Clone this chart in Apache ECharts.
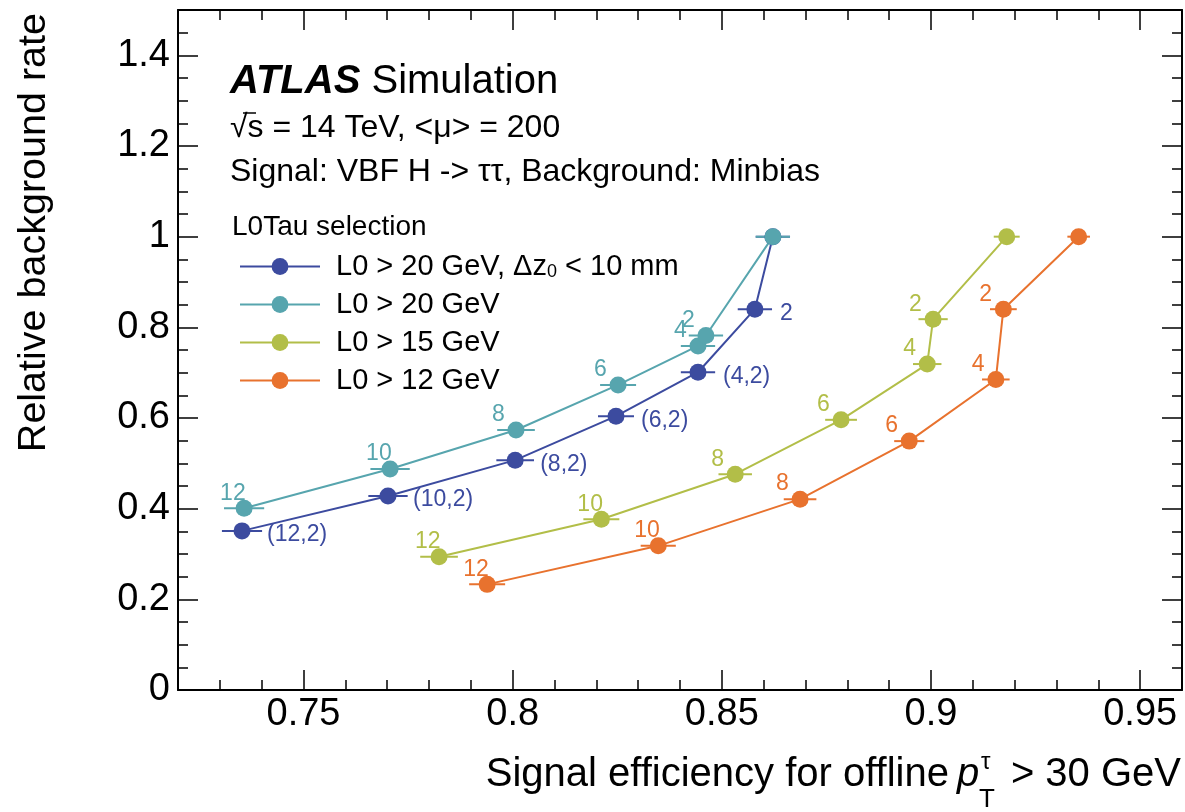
<!DOCTYPE html>
<html>
<head>
<meta charset="utf-8">
<script src="https://cdn.jsdelivr.net/npm/echarts@6/dist/echarts.min.js"></script>
<style>
html, body {margin: 0; padding: 0; background: #fff;}
#figure0 {width: 1185px; height: 812px;}
</style>
</head>
<body>
<div id="figure0"></div>
<script>
// values
var seriesNames = ['L0 > 20 GeV, Δz0 < 10 mm', 'L0 > 20 GeV', 'L0 > 15 GeV', 'L0 > 12 GeV'];
var seriesColors = ['#3c4b9f', '#57a5ae', '#b2be48', '#e8722e'];

var blueEff = [0.7353, 0.7702, 0.8006, 0.8247, 0.8443, 0.8579, 0.8622];
var blueRate = [0.351, 0.428, 0.507, 0.604, 0.701, 0.840, 1.0];
var blueErr = [0.0048, 0.0047, 0.0045, 0.0043, 0.0041, 0.0041, 0.0041];
var blueLabels = ['(12,2)', '(10,2)', '(8,2)', '(6,2)', '(4,2)', '2', ''];

var cyanEff = [0.7358, 0.7707, 0.8008, 0.8252, 0.8443, 0.8462, 0.8622];
var cyanRate = [0.401, 0.4875, 0.5736, 0.673, 0.759, 0.782, 1.0];
var cyanErr = [0.0048, 0.0047, 0.0045, 0.0043, 0.0041, 0.0041, 0.0041];
var cyanLabels = ['12', '10', '8', '6', '4', '2', ''];

var greenEff = [0.7824, 0.8212, 0.8532, 0.8785, 0.8991, 0.9005, 0.9181];
var greenRate = [0.294, 0.3766, 0.476, 0.596, 0.719, 0.818, 1.0];
var greenErr = [0.0045, 0.0043, 0.0040, 0.0038, 0.0034, 0.0035, 0.0031];
var greenLabels = ['12', '10', '8', '6', '4', '2', ''];

var orangeEff = [0.7939, 0.8348, 0.8687, 0.8948, 0.9155, 0.9173, 0.9353];
var orangeRate = [0.233, 0.318, 0.421, 0.549, 0.685, 0.840, 1.0];
var orangeErr = [0.0043, 0.0042, 0.0039, 0.0036, 0.0033, 0.0032, 0.0027];
var orangeLabels = ['12', '10', '8', '6', '4', '2', ''];

var font = "'Liberation Sans', Arial, Helvetica, sans-serif";
var figure0 = echarts.init(document.getElementById('figure0'));

var groups = [
    {eff: blueEff, rate: blueRate, err: blueErr, labels: blueLabels, offset: [25, 4]},
    {eff: cyanEff, rate: cyanRate, err: cyanErr, labels: cyanLabels, offset: [-24, -15]},
    {eff: greenEff, rate: greenRate, err: greenErr, labels: greenLabels, offset: [-24, -15]},
    {eff: orangeEff, rate: orangeRate, err: orangeErr, labels: orangeLabels, offset: [-24, -15]}
];

var series = [];
groups.forEach(function (g, k) {
    var color = seriesColors[k];
    var errData = g.eff.map(function (x, i) { return [x - g.err[i], x + g.err[i], g.rate[i]]; });
    series.push({
        name: 'err' + k,
        type: 'custom',
        xAxisIndex: 0, yAxisIndex: 0,
        data: errData,
        encode: {x: [0, 1], y: 2},
        z: 2,
        renderItem: function (params, api) {
            var a = api.coord([api.value(0), api.value(2)]);
            var b = api.coord([api.value(1), api.value(2)]);
            return {type: 'line', shape: {x1: a[0], y1: a[1], x2: b[0], y2: b[1]}, style: {stroke: color, lineWidth: 2}};
        }
    });
    series.push({
        name: seriesNames[k],
        type: 'line',
        xAxisIndex: 0, yAxisIndex: 0,
        data: g.eff.map(function (x, i) { return [x, g.rate[i]]; }),
        symbol: 'circle',
        symbolSize: 17,
        z: 3,
        lineStyle: {color: color, width: 2},
        itemStyle: {color: color},
        label: {
            show: true,
            position: 'inside',
            align: 'left',
            verticalAlign: 'middle',
            offset: g.offset,
            color: color,
            fontSize: 23,
            fontFamily: font,
            formatter: function (p) { return g.labels[p.dataIndex]; }
        }
    });
});

function frameAxis(pos, grid, extra) {
    var isX = pos === 'top' || pos === 'bottom';
    var ax = {
        type: 'value',
        gridIndex: grid,
        position: pos,
        min: isX ? 0.72 : 0,
        max: isX ? 0.96 : 1.5,
        splitLine: {show: false},
        axisLine: {show: grid === 0, onZero: false, lineStyle: {color: '#000', width: 2}},
        axisTick: {show: true, inside: true, length: grid === 0 ? 20 : 10, lineStyle: {color: '#000', width: 1.5}},
        axisLabel: {show: false}
    };
    return Object.assign(ax, extra || {});
}

var xLabelStyle = {show: true, margin: 6, color: '#000', fontSize: 38, fontFamily: font, showMinLabel: false, showMaxLabel: false};
var yLabelStyle = {show: true, margin: 8, color: '#000', fontSize: 38, fontFamily: font, showMinLabel: true, showMaxLabel: false};

var option = {
    animation: false,
    backgroundColor: '#fff',
    grid: [
        {left: 178, top: 10, width: 1004, height: 680},
        {left: 178, top: 10, width: 1004, height: 680}
    ],
    xAxis: [
        frameAxis('bottom', 0, {axisLabel: xLabelStyle}),
        frameAxis('top', 0),
        frameAxis('bottom', 1, {interval: 0.01}),
        frameAxis('top', 1, {interval: 0.01})
    ],
    yAxis: [
        frameAxis('left', 0, {interval: 0.2, axisLabel: yLabelStyle}),
        frameAxis('right', 0, {interval: 0.2}),
        frameAxis('left', 1, {interval: 0.05}),
        frameAxis('right', 1, {interval: 0.05})
    ],
    legend: {
        data: seriesNames,
        orient: 'vertical',
        left: 239,
        top: 252,
        itemWidth: 80,
        itemHeight: 21,
        itemGap: 9,
        padding: 0,
        formatter: function (name) {
            return name === seriesNames[0] ? 'L0 > 20 GeV, Δz{sub|0} < 10 mm' : name;
        },
        textStyle: {
            color: '#000', fontSize: 29, fontFamily: font, lineHeight: 29, padding: [0, 0, 0, 11],
            rich: {sub: {fontSize: 18, fontFamily: font, lineHeight: 8, verticalAlign: 'bottom'}}
        }
    },
    graphic: [
        {type: 'text', x: 230, y: 82, style: {
            text: '{b|ATLAS} Simulation', fontSize: 40, fontFamily: font, fill: '#000', verticalAlign: 'middle',
            rich: {b: {fontSize: 40, fontFamily: font, fontStyle: 'italic', fontWeight: 'bold', fill: '#000'}}
        }},
        {type: 'text', x: 230, y: 128, style: {text: '√s = 14 TeV, <μ> = 200', fontSize: 32, fontFamily: font, fill: '#000', verticalAlign: 'middle'}},
        {type: 'line', shape: {x1: 243, y1: 113, x2: 256, y2: 113}, style: {stroke: '#000', lineWidth: 1.5}},
        {type: 'text', x: 230, y: 172, style: {text: 'Signal: VBF H -> ττ, Background: Minbias', fontSize: 32, fontFamily: font, fill: '#000', verticalAlign: 'middle'}},
        {type: 'text', x: 232, y: 227, style: {text: 'L0Tau selection', fontSize: 28, fontFamily: font, fill: '#000', verticalAlign: 'middle'}},
        {type: 'text', x: 34, y: 13, rotation: Math.PI / 2, style: {text: 'Relative background rate', fontSize: 39.5, fontFamily: font, fill: '#000', align: 'right', verticalAlign: 'middle'}},
        {type: 'text', x: 949, y: 775, style: {text: 'Signal efficiency for offline', fontSize: 40, fontFamily: font, fill: '#000', align: 'right', verticalAlign: 'middle'}},
        {type: 'text', x: 957, y: 775, style: {text: 'p', fontSize: 40, fontFamily: font, fontStyle: 'italic', fill: '#000', verticalAlign: 'middle'}},
        {type: 'text', x: 981, y: 762, style: {text: 'τ', fontSize: 24, fontFamily: font, fill: '#000', verticalAlign: 'middle'}},
        {type: 'text', x: 979, y: 800, style: {text: 'T', fontSize: 26, fontFamily: font, fill: '#000', verticalAlign: 'middle'}},
        {type: 'text', x: 1181, y: 775, style: {text: '> 30 GeV', fontSize: 40, fontFamily: font, fill: '#000', align: 'right', verticalAlign: 'middle'}}
    ],
    series: series
};
figure0.setOption(option);
</script>
</body>
</html>
